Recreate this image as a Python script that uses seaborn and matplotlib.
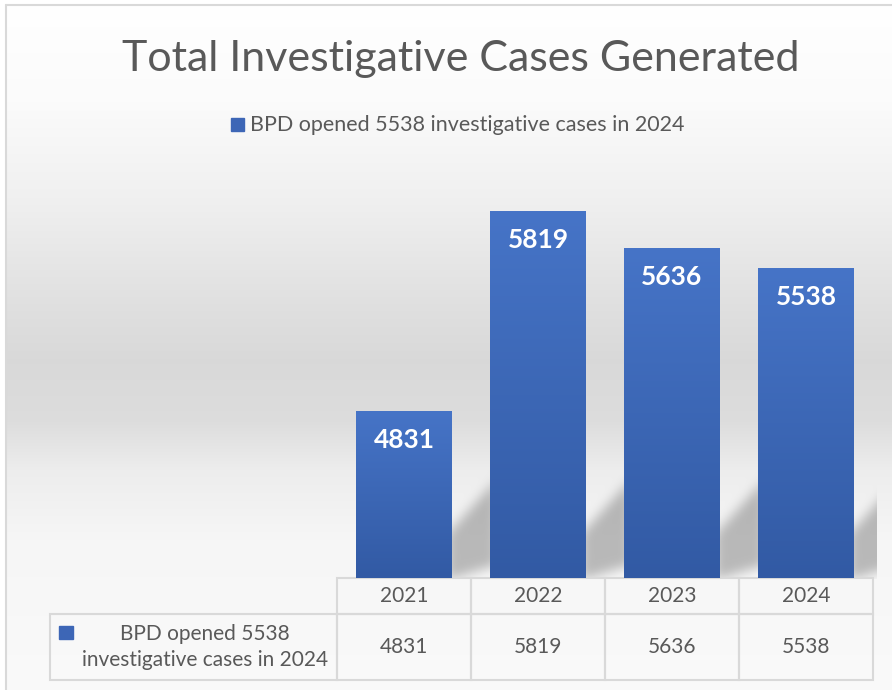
import numpy as np
import pandas as pd
import matplotlib.pyplot as plt
import seaborn as sns
from matplotlib.patches import Rectangle
from matplotlib.colors import LinearSegmentedColormap

# data
years = ["2021", "2022", "2023", "2024"]
cases = [4831, 5819, 5636, 5538]
series_name = "BPD opened 5538 investigative cases in 2024"
series_lines = "BPD opened 5538\ninvestigative cases in 2024"
title = "Total Investigative Cases Generated"

df = pd.DataFrame({"year": years, "cases": cases})

sns.set_theme(style="white")
plt.rcParams["font.family"] = ["Lato", "DejaVu Sans"]

TXT = "#595959"
GRID = "#d9d9d9"
W, H = 892, 690


def fx(px):
    return px / W


def fy(py):
    return 1 - py / H


fig = plt.figure(figsize=(W / 100, H / 100), dpi=100)
fig.patch.set_facecolor("white")

bg = fig.add_axes([0, 0, 1, 1])
bg.set_axis_off()

# plot area
ax = fig.add_axes([fx(337), fy(578), (873 - 337) / W, (578 - 175) / H])
sns.barplot(data=df, x="year", y="cases", order=years, color="#4472c4",
            saturation=1, width=0.716, linewidth=0, ax=ax)
ax.set_ylim(4000, 6000)
ax.set_xlim(-0.5, 3.5)
lo = ax.get_ylim()[0]

# vertical gradient on bars
bar_cmap = LinearSegmentedColormap.from_list("bar", ["#325aa4", "#4674c7"])
for p in ax.patches:
    x0, w, h = p.get_x(), p.get_width(), p.get_height()
    im = ax.imshow(np.linspace(0, 1, 200).reshape(-1, 1), cmap=bar_cmap,
                   aspect="auto", origin="lower",
                   extent=(x0, x0 + w, lo, p.get_y() + h), zorder=p.get_zorder() + 0.1)
    im.set_clip_path(p)
ax.set_ylim(4000, 6000)
ax.set_xlim(-0.5, 3.5)
ax.set_axis_off()

for i, v in enumerate(cases):
    ax.annotate(f"{v}", xy=(i, v), xytext=(0, -29), textcoords="offset pixels",
                ha="center", va="center", color="white", fontsize=19,
                fontweight="bold", zorder=5)

# data table under the bars
cell_text = [[""] + years, [""] + [str(v) for v in cases]]
tb = ax.table(cellText=cell_text, cellLoc="center",
              bbox=[(50 - 337) / 536, -102 / 403, 823 / 536, 102 / 403])
tb.auto_set_font_size(False)
widths = [287, 134, 134, 134, 134]
heights = [36, 66]
for (r, c), cell in tb.get_celld().items():
    cell.set_width(widths[c])
    cell.set_height(heights[r])
    cell.set_edgecolor(GRID)
    cell.set_facecolor("none")
    cell.set_linewidth(1.5)
    cell.get_text().set_fontsize(15)
    cell.get_text().set_color(TXT)
tb[0, 0].visible_edges = ""

fig.text(fx(205), fy(647), series_lines, ha="center", va="center",
         multialignment="center", fontsize=15, color=TXT, linespacing=1.35)
fig.add_artist(Rectangle((fx(59), fy(639)), 14 / W, 13 / H, color="#3d66b6",
                         transform=fig.transFigure))

# title and legend
fig.text(fx(461), fy(59), title, ha="center", va="center", fontsize=31, color=TXT)
fig.add_artist(Rectangle((fx(231), fy(131)), 13 / W, 13 / H, color="#3d66b6",
                         transform=fig.transFigure))
fig.text(fx(250), fy(125), series_name, ha="left", va="center", fontsize=15.5, color=TXT)

# chart area border
fig.add_artist(plt.Line2D([fx(6), 1], [fy(5), fy(5)], color=GRID, lw=1.5,
                          transform=fig.transFigure))
fig.add_artist(plt.Line2D([fx(6), fx(6)], [fy(5), 0], color=GRID, lw=1.5,
                          transform=fig.transFigure))

# background gradient with soft shadows behind bars
fig.canvas.draw()
stops_y = [0, 100, 200, 300, 360, 420, 470, 540, 690]
stops_v = [1.0, 0.985, 0.94, 0.88, 0.85, 0.865, 0.93, 0.965, 0.98]
col = np.interp(np.arange(H), stops_y, stops_v)
img = np.repeat(col[:, None], W, axis=1)

base_px = H - ax.get_window_extent().y0
X, Y = np.meshgrid(np.arange(W), np.arange(H))
mask = np.zeros((H, W))
for p in ax.patches:
    ext = p.get_window_extent()
    xr = ext.x1
    yb = base_px
    d = X - xr
    band = (d >= -5) & (d <= 45) & (Y >= yb - 50 - 1.1 * d) & (Y <= yb - 0.3 * d)
    mask[band] = 1.0
k = np.ones(11) / 11
for _ in range(3):
    mask = np.apply_along_axis(lambda r: np.convolve(r, k, mode="same"), 1, mask)
    mask = np.apply_along_axis(lambda r: np.convolve(r, k, mode="same"), 0, mask)
mask[Y > base_px] = 0
mask[X > 876] = 0
img = img * (1 - 0.25 * mask)
img[:, :6] = 1
img[:5, :] = 1
bg.imshow(np.dstack([img] * 3), extent=(0, W, H, 0), aspect="auto", zorder=0)
bg.set_xlim(0, W)
bg.set_ylim(H, 0)

fig.savefig("out.png", dpi=100)
